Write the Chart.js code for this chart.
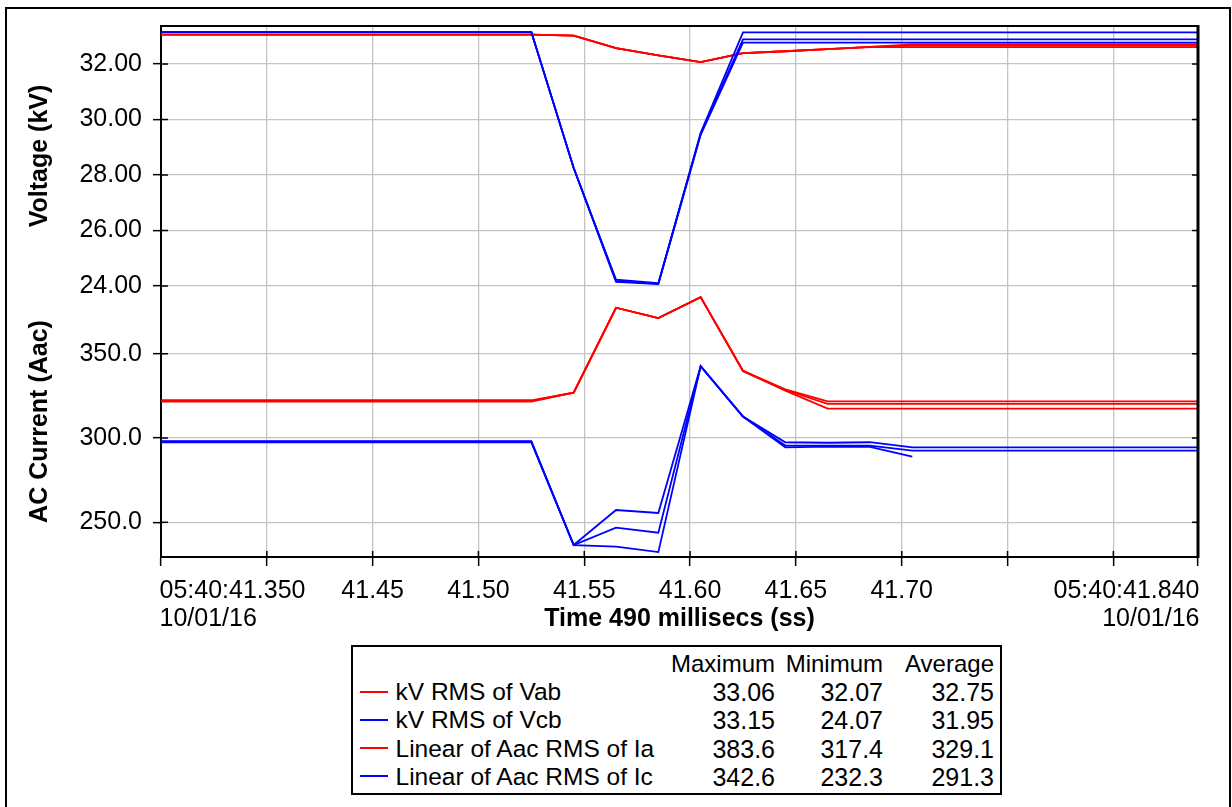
<!DOCTYPE html>
<html>
<head>
<meta charset="utf-8">
<title>Voltage and AC current, 10/01/16 05:40:41</title>
<script src="https://cdn.jsdelivr.net/npm/chart.js@4.4.1/dist/chart.umd.min.js"></script>
<style>
  html, body { margin: 0; padding: 0; background: #fff; }
  #wrap { position: relative; width: 1232px; height: 807px; overflow: hidden; background: #fff; }
  #frame { position: absolute; left: 5px; top: 7px; width: 1226px; height: 830px; border: 2px solid #000; box-sizing: border-box; }
  #plot { position: absolute; left: 0; top: 0; width: 1232px; height: 807px; }
  #legend {
    position: absolute; left: 351px; top: 645px; width: 651px; height: 150px;
    border: 2px solid #000; box-sizing: border-box; background: #fff;
    font-family: "Liberation Sans", Arial, sans-serif; font-size: 24px; line-height: 28.3px; color: #000;
  }
  #legend .row { position: absolute; left: 0; right: 0; height: 28.3px; white-space: nowrap; }
  #legend .swatch { position: absolute; left: 7px; top: 12.6px; width: 28px; height: 2px; }
  #legend .name { position: absolute; left: 42.5px; font-size: 24.5px; }
  #legend .val { position: absolute; text-align: right; }
  #legend .num { font-size: 25px; }
</style>
</head>
<body>
<div id="wrap">
  <div id="frame"></div>
  <div id="plot"><canvas id="chart"></canvas></div>
  <div id="legend"></div>
</div>
<script>
// sample times (s past 05:40) - one RMS value every 20 ms
const times = [41.345, 41.365, 41.385, 41.405, 41.425, 41.445, 41.465, 41.485, 41.505, 41.525,
  41.545, 41.565, 41.585, 41.605, 41.625, 41.645, 41.665, 41.685, 41.705, 41.725,
  41.745, 41.765, 41.785, 41.805, 41.825, 41.845];

// kV RMS of Vab (three traces)
const vabA = [33.06, 33.06, 33.06, 33.06, 33.06, 33.06, 33.06, 33.06, 33.06, 33.06,
  33.02, 32.57, 32.31, 32.07, 32.39, 32.46, 32.54, 32.62, 32.71, 32.71,
  32.71, 32.71, 32.71, 32.71, 32.71, 32.71];
const vabB = [33.06, 33.06, 33.06, 33.06, 33.06, 33.06, 33.06, 33.06, 33.06, 33.06,
  33.02, 32.57, 32.31, 32.07, 32.39, 32.46, 32.54, 32.62, 32.66, 32.66,
  32.66, 32.66, 32.66, 32.66, 32.66, 32.66];
const vabC = [33.06, 33.06, 33.06, 33.06, 33.06, 33.06, 33.06, 33.06, 33.06, 33.06,
  33.02, 32.57, 32.31, 32.07, 32.39, 32.46, 32.54, 32.61, 32.61, 32.61,
  32.61, 32.61, 32.61, 32.61, 32.61, 32.61];

// kV RMS of Vcb
const vcbA = [33.15, 33.15, 33.15, 33.15, 33.15, 33.15, 33.15, 33.15, 33.15, 33.15,
  28.25, 24.23, 24.10, 29.52, 33.14, 33.14, 33.14, 33.14, 33.14, 33.14,
  33.14, 33.14, 33.14, 33.14, 33.14, 33.14];
const vcbB = [33.15, 33.15, 33.15, 33.15, 33.15, 33.15, 33.15, 33.15, 33.15, 33.15,
  28.25, 24.18, 24.08, 29.48, 32.89, 32.89, 32.89, 32.89, 32.89, 32.89,
  32.89, 32.89, 32.89, 32.89, 32.89, 32.89];
const vcbC = [33.15, 33.15, 33.15, 33.15, 33.15, 33.15, 33.15, 33.15, 33.15, 33.15,
  28.25, 24.15, 24.07, 29.45, 32.77, 32.77, 32.77, 32.77, 32.77, 32.77,
  32.77, 32.77, 32.77, 32.77, 32.77, 32.77];

// Aac RMS of Ia
const iaA = [322.4, 322.4, 322.4, 322.4, 322.4, 322.4, 322.4, 322.4, 322.4, 322.4,
  326.9, 377.3, 371.2, 383.6, 339.8, 328.9, 321.8, 321.8, 321.8, 321.8,
  321.8, 321.8, 321.8, 321.8, 321.8, 321.8];
const iaB = [322.0, 322.0, 322.0, 322.0, 322.0, 322.0, 322.0, 322.0, 322.0, 322.0,
  326.9, 377.3, 371.2, 383.6, 339.8, 328.5, 320.2, 320.2, 320.2, 320.2,
  320.2, 320.2, 320.2, 320.2, 320.2, 320.2];
const iaC = [321.6, 321.6, 321.6, 321.6, 321.6, 321.6, 321.6, 321.6, 321.6, 321.6,
  326.9, 377.3, 371.2, 383.6, 339.8, 328.1, 317.4, 317.4, 317.4, 317.4,
  317.4, 317.4, 317.4, 317.4, 317.4, 317.4];

// Aac RMS of Ic (third trace stops at 41.705)
const icA = [298.2, 298.2, 298.2, 298.2, 298.2, 298.2, 298.2, 298.2, 298.2, 298.2,
  236.5, 257.3, 255.5, 342.6, 312.7, 297.5, 297.2, 297.5, 294.5, 294.5,
  294.5, 294.5, 294.5, 294.5, 294.5, 294.5];
const icB = [297.8, 297.8, 297.8, 297.8, 297.8, 297.8, 297.8, 297.8, 297.8, 297.8,
  236.5, 246.8, 243.8, 342.6, 312.7, 295.5, 295.5, 295.5, 292.5, 292.5,
  292.5, 292.5, 292.5, 292.5, 292.5, 292.5];
const icC = [297.4, 297.4, 297.4, 297.4, 297.4, 297.4, 297.4, 297.4, 297.4, 297.4,
  236.5, 235.5, 232.3, 342.6, 312.7, 294.5, 294.9, 294.7, 289.0, null,
  null, null, null, null, null, null];

// axis ticks
const xTicks = [41.35, 41.40, 41.45, 41.50, 41.55, 41.60, 41.65, 41.70, 41.75, 41.80, 41.84];
const xTickLabels = ['', '', '41.45', '41.50', '41.55', '41.60', '41.65', '41.70', '', '', ''];
const voltTicks = [24, 26, 28, 30, 32];
const ampTicks = [250, 300, 350];
const startStamp = ['05:40:41.350', '10/01/16'];
const endStamp = ['05:40:41.840', '10/01/16'];

// legend table
const legendNames = ['kV RMS of Vab', 'kV RMS of Vcb', 'Linear of Aac RMS of Ia', 'Linear of Aac RMS of Ic'];
const legendColors = ['#ff0000', '#0000ff', '#ff0000', '#0000ff'];
const statHeads = ['Maximum', 'Minimum', 'Average'];
const statMax = ['33.06', '33.15', '383.6', '342.6'];
const statMin = ['32.07', '24.07', '317.4', '232.3'];
const statAvg = ['32.75', '31.95', '329.1', '291.3'];

const RED = '#ff0000';
const BLUE = '#0000ff';
const GRID = '#c4c4c4';
const FONT = '"Liberation Sans", Arial, sans-serif';
const FS = 25;

Chart.defaults.font.family = FONT;
Chart.defaults.font.size = FS;
Chart.defaults.color = '#000';

const pts = vals => times.map((t, i) => ({ x: t, y: vals[i] }));
const trace = (vals, color, axis) => ({
  data: pts(vals), yAxisID: axis, borderColor: color, borderWidth: 1.8,
  pointRadius: 0, fill: false, tension: 0, spanGaps: false
});

// blue first so it sits on top of the red
const datasets = [
  trace(vcbA, BLUE, 'volts'), trace(vcbB, BLUE, 'volts'), trace(vcbC, BLUE, 'volts'),
  trace(icA, BLUE, 'amps'), trace(icB, BLUE, 'amps'), trace(icC, BLUE, 'amps'),
  trace(vabA, RED, 'volts'), trace(vabB, RED, 'volts'), trace(vabC, RED, 'volts'),
  trace(iaA, RED, 'amps'), trace(iaB, RED, 'amps'), trace(iaC, RED, 'amps')
];

const yGrid = { color: GRID, lineWidth: 1.3, tickLength: 8, tickColor: '#000', tickWidth: 1.5 };
const yBorder = { color: '#000', width: 2 };
const yTitle = text => ({ display: true, text, font: { size: FS, weight: 'bold' }, color: '#000', padding: { top: 10.5, bottom: 0 } });

// plot box outline, inner tick marks and the date stamps at both ends of the time axis
const framePlugin = {
  id: 'framePlugin',
  afterDraw(chart) {
    const { ctx, chartArea: a, scales } = chart;
    const seg = (x1, y1, x2, y2) => { ctx.beginPath(); ctx.moveTo(x1, y1); ctx.lineTo(x2, y2); ctx.stroke(); };
    ctx.save();
    ctx.strokeStyle = '#000';
    ctx.lineWidth = 2;
    seg(a.left - 1, a.top, a.right, a.top);
    ctx.lineWidth = 3;
    seg(a.right, a.top - 1, a.right, a.bottom + 1);

    ctx.lineWidth = 1.5;
    scales.x.ticks.forEach(t => {
      const px = scales.x.getPixelForValue(t.value);
      seg(px, a.bottom, px, a.bottom - 6);
    });
    [scales.volts, scales.amps].forEach(s => s.ticks.forEach(t => {
      const py = s.getPixelForValue(t.value);
      seg(a.left, py, a.left + 7, py);
      seg(a.right - 6, py, a.right, py);
    }));

    ctx.font = FS + 'px ' + FONT;
    ctx.fillStyle = '#000';
    ctx.textBaseline = 'middle';
    const y0 = a.bottom + 9 + 10 + FS * 0.6;
    const xl = scales.x.getPixelForValue(scales.x.min);
    const xr = scales.x.getPixelForValue(scales.x.max);
    ctx.textAlign = 'left';
    startStamp.forEach((s, i) => ctx.fillText(s, xl - 1.5, y0 + i * 28));
    ctx.textAlign = 'right';
    endStamp.forEach((s, i) => ctx.fillText(s, xr + 1.5, y0 + i * 28));
    ctx.restore();
  }
};

new Chart(document.getElementById('chart'), {
  type: 'line',
  data: { datasets },
  plugins: [framePlugin],
  options: {
    responsive: true,
    maintainAspectRatio: false,
    animation: false,
    events: [],
    layout: { padding: { left: 15, top: 26, right: 34, bottom: 170 } },
    plugins: { legend: { display: false }, tooltip: { enabled: false } },
    scales: {
      x: {
        type: 'linear', min: 41.35, max: 41.84,
        afterBuildTicks: s => { s.ticks = xTicks.map(v => ({ value: v })); },
        afterFit: s => { s.height = 80; },
        ticks: { autoSkip: false, maxRotation: 0, padding: 10, callback: (v, i) => xTickLabels[i] },
        grid: { color: GRID, lineWidth: 1.3, tickLength: 9, tickColor: '#000', tickWidth: 1.5 },
        border: { color: '#000', width: 2 },
        title: { display: true, text: 'Time 490 millisecs (ss)', font: { size: FS, weight: 'bold' }, color: '#000', padding: { top: 0, bottom: 3 } }
      },
      amps: {
        type: 'linear', position: 'left', stack: 'panels', stackWeight: 271,
        min: 229.4, max: 390.2,
        afterBuildTicks: s => { s.ticks = ampTicks.map(v => ({ value: v })); },
        afterFit: s => { s.width = 146; },
        ticks: { padding: 11, callback: v => v.toFixed(1) },
        grid: yGrid, border: yBorder,
        title: yTitle('AC Current (Aac)')
      },
      volts: {
        type: 'linear', position: 'left', stack: 'panels', stackWeight: 260,
        min: 24, max: 33.37,
        afterBuildTicks: s => { s.ticks = voltTicks.map(v => ({ value: v })); },
        afterFit: s => { s.width = 146; },
        ticks: { padding: 11, callback: v => v.toFixed(2) },
        grid: yGrid, border: yBorder,
        title: yTitle('Voltage (kV)')
      }
    }
  }
});

// statistics table under the plot
const legend = document.getElementById('legend');
const addCell = (row, cls, text, right) => {
  const el = document.createElement('span');
  el.className = cls;
  el.textContent = text;
  if (right !== undefined) el.style.right = right + 'px';
  row.appendChild(el);
  return el;
};
const colRight = [225, 117, 6];
const addRow = i => {
  const row = document.createElement('div');
  row.className = 'row';
  row.style.top = (2.7 + 28.3 * i) + 'px';
  legend.appendChild(row);
  return row;
};
const head = addRow(0);
statHeads.forEach((h, j) => addCell(head, 'val', h, colRight[j]));
legendNames.forEach((name, k) => {
  const row = addRow(k + 1);
  const sw = addCell(row, 'swatch', '');
  sw.style.background = legendColors[k];
  addCell(row, 'name', name);
  [statMax[k], statMin[k], statAvg[k]].forEach((v, j) => addCell(row, 'val num', v, colRight[j]));
});
</script>
</body>
</html>
